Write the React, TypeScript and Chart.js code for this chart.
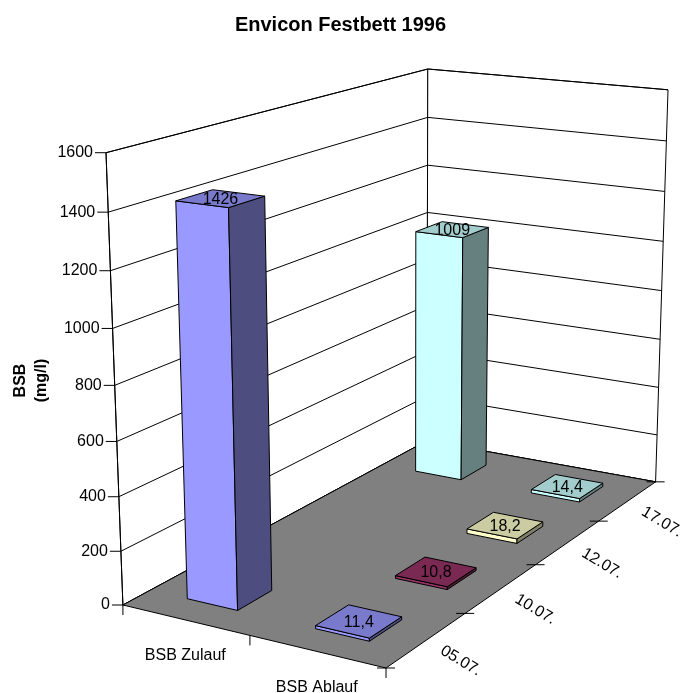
import { useEffect, useRef } from "react";
import { Chart, registerables } from "chart.js";

Chart.register(...registerables);

// ---- data -------------------------------------------------------------
const categories = ["BSB Zulauf", "BSB Ablauf"];
const seriesLabels = ["05.07.", "10.07.", "12.07.", "17.07."];
const values0507: (number | null)[] = [1426, 11.4];
const values1007: (number | null)[] = [null, 10.8];
const values1207: (number | null)[] = [null, 18.2];
const values1707: (number | null)[] = [1009, 14.4];
const seriesValues = [values0507, values1007, values1207, values1707];
const seriesColors = ["#9999FF", "#993366", "#FFFFCC", "#CCFFFF"];
const valueMin = 0;
const valueMax = 1600;
const valueStep = 200;

// ---- 3-D view settings ----------------------------------------------
const VIEW = {
  rotationDeg: 30.2,
  elevationDeg: 15.5,
  perspective: 15.3, // camera distance, in category units
  heightPercent: 151.5, // wall height relative to the base width
  gapWidth: 1.5,
  gapDepth: 1.5,
};
const PLOT_INSET = { left: 106, right: 13 };
const FONT = "Liberation Sans, Arial, sans-serif";
const FLOOR_COLOR = "#808080";

type Pt = { x: number; y: number };

function shade(hex: string, f: number): string {
  const n = parseInt(hex.slice(1), 16);
  const r = Math.round(((n >> 16) & 255) * f);
  const g = Math.round(((n >> 8) & 255) * f);
  const b = Math.round((n & 255) * f);
  return `rgb(${r},${g},${b})`;
}

function formatValue(v: number): string {
  return String(v).replace(".", ",");
}

function buildView(W: number, H: number, D: number, region: { left: number; right: number; top: number; bottom: number }) {
  const th = (VIEW.rotationDeg * Math.PI) / 180;
  const ph = (VIEW.elevationDeg * Math.PI) / 180;
  const ct = Math.cos(th), st = Math.sin(th);
  const cp = Math.cos(ph), sp = Math.sin(ph);
  const L = VIEW.perspective;
  const cam = (X: number, Y: number, Z: number) => {
    const px = X - W / 2, py = Y - H / 2, pz = Z - D / 2;
    const x1 = px * ct + pz * st;
    const z1 = -px * st + pz * ct;
    const ys = py * cp + z1 * sp;
    const zs = z1 * cp - py * sp;
    const k = L / (L + zs);
    return { u: x1 * k, v: ys * k, depth: zs };
  };
  let minU = Infinity, maxU = -Infinity, minV = Infinity, maxV = -Infinity;
  for (const X of [0, W]) for (const Y of [0, H]) for (const Z of [0, D]) {
    const c = cam(X, Y, Z);
    minU = Math.min(minU, c.u); maxU = Math.max(maxU, c.u);
    minV = Math.min(minV, c.v); maxV = Math.max(maxV, c.v);
  }
  const sx = (region.right - region.left) / (maxU - minU);
  const sy = (region.bottom - region.top) / (maxV - minV);
  const project = (X: number, Y: number, Z: number): Pt => {
    const c = cam(X, Y, Z);
    return { x: region.left + (c.u - minU) * sx, y: region.top + (maxV - c.v) * sy };
  };
  return { project, depth: (X: number, Y: number, Z: number) => cam(X, Y, Z).depth };
}

function poly(ctx: CanvasRenderingContext2D, pts: Pt[], fill: string | null, stroke = "#000") {
  ctx.beginPath();
  pts.forEach((p, i) => (i ? ctx.lineTo(p.x, p.y) : ctx.moveTo(p.x, p.y)));
  ctx.closePath();
  if (fill) { ctx.fillStyle = fill; ctx.fill(); }
  ctx.strokeStyle = stroke;
  ctx.lineWidth = 1;
  ctx.stroke();
}

function line(ctx: CanvasRenderingContext2D, a: Pt, b: Pt) {
  ctx.beginPath();
  ctx.moveTo(a.x, a.y);
  ctx.lineTo(b.x, b.y);
  ctx.strokeStyle = "#000";
  ctx.lineWidth = 1;
  ctx.stroke();
}

const columns3d = {
  id: "columns3d",
  beforeDatasetsDraw(chart: any) {
    const ctx: CanvasRenderingContext2D = chart.ctx;
    const area = chart.chartArea;
    const xScale = chart.scales.x;
    const yScale = chart.scales.y;
    const zScale = chart.scales.z;

    const W = categories.length;
    const D = seriesLabels.length;
    const H = (W * VIEW.heightPercent) / 100;
    const region = {
      left: area.left + PLOT_INSET.left,
      right: area.right - PLOT_INSET.right,
      top: area.top,
      bottom: area.bottom,
    };
    const { project: P, depth } = buildView(W, H, D, region);

    const catPos = (i: number) => ((xScale.getPixelForValue(i) - xScale.left) / xScale.width) * W;
    const serPos = (j: number) => ((zScale.getPixelForValue(j) - zScale.left) / zScale.width) * D;
    const valPos = (v: number) => ((yScale.bottom - yScale.getPixelForValue(v)) / (yScale.bottom - yScale.top)) * H;

    ctx.save();

    // walls
    poly(ctx, [P(0, 0, 0), P(0, 0, D), P(0, H, D), P(0, H, 0)], "#FFFFFF");
    poly(ctx, [P(0, 0, D), P(W, 0, D), P(W, H, D), P(0, H, D)], "#FFFFFF");

    // gridlines on the walls
    const ticks = yScale.ticks as { value: number }[];
    for (const t of ticks) {
      const y = valPos(t.value);
      line(ctx, P(0, y, 0), P(0, y, D));
      line(ctx, P(0, y, D), P(W, y, D));
    }

    // floor
    poly(ctx, [P(0, 0, 0), P(W, 0, 0), P(W, 0, D), P(0, 0, D)], FLOOR_COLOR);

    // value axis
    line(ctx, P(0, 0, 0), P(0, H, 0));
    ctx.font = `16px ${FONT}`;
    ctx.fillStyle = "#000";
    ctx.textAlign = "right";
    ctx.textBaseline = "middle";
    for (const t of ticks) {
      const p = P(0, valPos(t.value), 0);
      line(ctx, { x: p.x - 11, y: p.y }, p);
      ctx.fillText(String(t.value), p.x - 13, p.y);
    }

    // category axis (front edge)
    for (let k = 0; k <= W; k++) {
      const p = P(k, 0, 0);
      line(ctx, p, { x: p.x, y: p.y + 10 });
    }
    ctx.textAlign = "center";
    categories.forEach((c, i) => {
      const p = P(catPos(i), 0, 0);
      ctx.fillText(c, p.x, p.y + 36);
    });

    // series (depth) axis along the right edge
    for (let k = 0; k <= D; k++) {
      const p = P(W, 0, k);
      line(ctx, { x: p.x - 9, y: p.y }, { x: p.x + 9, y: p.y });
    }
    seriesLabels.forEach((s, j) => {
      const p = P(W, 0, serPos(j));
      ctx.save();
      ctx.translate(p.x + 34, p.y + 21);
      ctx.rotate((31 * Math.PI) / 180);
      ctx.fillText(s, 0, 0);
      ctx.restore();
    });

    // columns, far ones first
    const size = 1 / (1 + VIEW.gapWidth);
    const sizeZ = 1 / (1 + VIEW.gapDepth);
    type Bar = { xc: number; zc: number; top: number; color: string; value: number };
    const bars: Bar[] = [];
    seriesValues.forEach((vals, j) => {
      vals.forEach((v, i) => {
        if (v == null) return;
        bars.push({ xc: catPos(i), zc: serPos(j), top: valPos(v), color: seriesColors[j], value: v });
      });
    });
    bars.sort((a, b) => depth(b.xc, b.top / 2, b.zc) - depth(a.xc, a.top / 2, a.zc));
    for (const b of bars) {
      const x0 = b.xc - size / 2, x1 = b.xc + size / 2;
      const z0 = b.zc - sizeZ / 2, z1 = b.zc + sizeZ / 2;
      const y1 = b.top;
      poly(ctx, [P(x0, 0, z0), P(x1, 0, z0), P(x1, y1, z0), P(x0, y1, z0)], b.color);
      poly(ctx, [P(x1, 0, z0), P(x1, 0, z1), P(x1, y1, z1), P(x1, y1, z0)], shade(b.color, 0.5));
      poly(ctx, [P(x0, y1, z0), P(x1, y1, z0), P(x1, y1, z1), P(x0, y1, z1)], shade(b.color, 0.8));
    }

    // value labels on the column tops
    ctx.font = `16px ${FONT}`;
    ctx.fillStyle = "#000";
    ctx.textAlign = "center";
    ctx.textBaseline = "middle";
    for (const b of bars) {
      const p = P(b.xc, b.top, b.zc);
      ctx.fillText(formatValue(b.value), p.x, p.y + 1);
    }

    // value axis title
    ctx.font = `bold 16px ${FONT}`;
    ctx.save();
    ctx.translate(0, (area.top + area.bottom) / 2 + 12);
    ctx.rotate(-Math.PI / 2);
    ctx.fillText("BSB", 0, 20.5);
    ctx.fillText("(mg/l)", 0, 42);
    ctx.restore();

    ctx.restore();
    return false;
  },
};

export default function App() {
  const ref = useRef<HTMLCanvasElement>(null);
  useEffect(() => {
    document.body.style.margin = "0";
    const canvas = ref.current;
    if (!canvas) return;
    const chart = new Chart(canvas, {
      type: "bar",
      data: {
        labels: categories,
        datasets: seriesValues.map((vals, j) => ({
          label: seriesLabels[j],
          data: vals,
          backgroundColor: seriesColors[j],
        })),
      },
      options: {
        responsive: false,
        animation: false,
        devicePixelRatio: 1,
        layout: { padding: { left: 0, right: 0, top: 0, bottom: 25 } },
        scales: {
          x: { type: "category", display: false, offset: true },
          z: { type: "category", axis: "x", position: "bottom", display: false, offset: true, labels: seriesLabels },
          y: { type: "linear", display: false, min: valueMin, max: valueMax, ticks: { stepSize: valueStep } },
        },
        plugins: {
          legend: { display: false },
          tooltip: { enabled: false },
          title: {
            display: true,
            text: "Envicon Festbett 1996",
            color: "#000",
            font: { family: FONT, size: 20, weight: "bold" },
            padding: { top: 13, bottom: 32 },
          },
        },
      },
      plugins: [columns3d],
    } as any);
    return () => chart.destroy();
  }, []);
  return (
    <div style={{ width: 681, height: 693 }}>
      <canvas ref={ref} width={681} height={693} />
    </div>
  );
}
